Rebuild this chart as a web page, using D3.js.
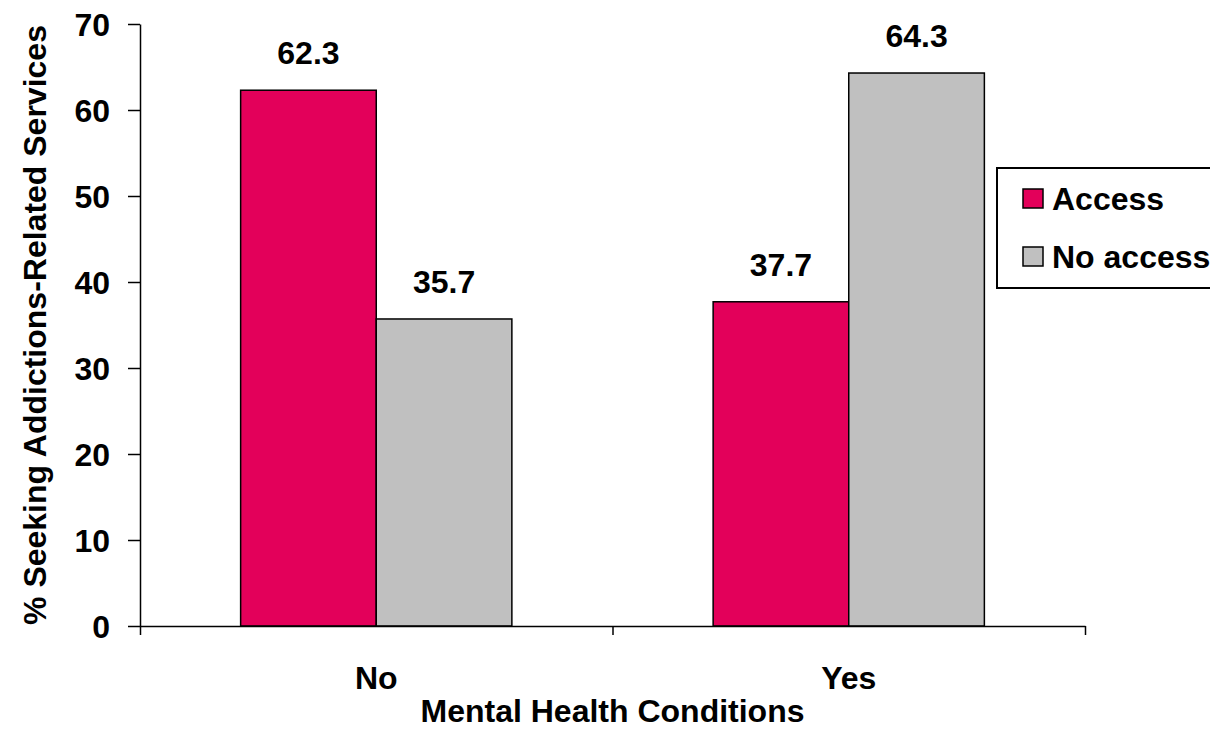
<!DOCTYPE html>
<html><head><meta charset="utf-8">
<script src="https://cdn.jsdelivr.net/npm/d3@7"></script>
<style>
body{margin:0;background:#fff;}
text{font-family:"Liberation Sans",Arial,sans-serif;font-weight:bold;fill:#000;}
</style></head>
<body><svg id="c" width="1210" height="731"></svg>
<script>
const categories = ["No", "Yes"];
const seriesNames = ["Access", "No access"];
const accessValues = [62.3, 37.7];
const noAccessValues = [35.7, 64.3];
const yTicks = [0, 10, 20, 30, 40, 50, 60, 70];
const colors = ["#E3005A", "#C0C0C0"];
const xTitle = "Mental Health Conditions";
const yTitle = "% Seeking Addictions-Related Services";

(function () {
const seriesValues = [accessValues, noAccessValues];
const svg = d3.select("#c");
const mL = 140, mR = 1085, mT = 24, mB = 626;
const fs = 32;

const x0 = d3.scaleBand().domain(categories).range([mL, mR]).padding(0);
const x1 = d3.scaleBand().domain(seriesNames).range([0, x0.bandwidth()]).paddingInner(0).paddingOuter(0.742);
const y = d3.scaleLinear().domain([0, 70]).range([mB, mT]);

categories.forEach((cat, ci) => {
  seriesNames.forEach((s, si) => {
    const v = seriesValues[si][ci];
    svg.append("rect")
      .attr("x", x0(cat) + x1(s))
      .attr("y", y(v))
      .attr("width", x1.bandwidth())
      .attr("height", y(0) - y(v))
      .attr("fill", colors[si])
      .attr("stroke", "#000").attr("stroke-width", 1.5);
    svg.append("text")
      .attr("x", x0(cat) + x1(s) + x1.bandwidth() / 2)
      .attr("y", y(v) - 26)
      .attr("text-anchor", "middle")
      .style("font-size", fs + "px")
      .text(v.toFixed(1));
  });
});

const yAxis = d3.axisLeft(y).tickValues(yTicks).tickSize(12).tickSizeOuter(0).tickPadding(18);
const gy = svg.append("g").attr("transform", `translate(${mL},0)`).call(yAxis);
gy.selectAll("path,line").attr("stroke", "#000").attr("stroke-width", 1.5);
gy.selectAll("text").style("font-size", fs + "px").attr("font-family", null).attr("dy", "0.36em");

const xTickScale = d3.scaleLinear().domain([0, 2]).range([mL, mR]);
const gx = svg.append("g").attr("transform", `translate(0,${mB})`)
  .call(d3.axisBottom(xTickScale).tickValues([0, 1, 2]).tickSize(9).tickSizeOuter(0).tickFormat(""));
gx.selectAll("path,line").attr("stroke", "#000").attr("stroke-width", 1.5);

categories.forEach(cat => {
  svg.append("text").attr("x", x0(cat) + x0.bandwidth() / 2).attr("y", 689)
    .attr("text-anchor", "middle").style("font-size", fs + "px").text(cat);
});

svg.append("text").attr("x", (mL + mR) / 2).attr("y", 722)
  .attr("text-anchor", "middle").style("font-size", fs + "px").text(xTitle);
svg.append("text").attr("transform", "translate(46,325) rotate(-90)")
  .attr("text-anchor", "middle").style("font-size", fs + "px").text(yTitle);

const lg = svg.append("g");
lg.append("rect").attr("x", 997).attr("y", 168).attr("width", 240).attr("height", 120)
  .attr("fill", "#fff").attr("stroke", "#000").attr("stroke-width", 2);
seriesNames.forEach((s, i) => {
  const yy = 189 + i * 58;
  lg.append("rect").attr("x", 1023).attr("y", yy).attr("width", 20).attr("height", 19)
    .attr("fill", colors[i]).attr("stroke", "#000").attr("stroke-width", 1.5);
  lg.append("text").attr("x", 1052).attr("y", yy + 21).style("font-size", fs + "px").text(s);
});
})();
</script></body></html>
